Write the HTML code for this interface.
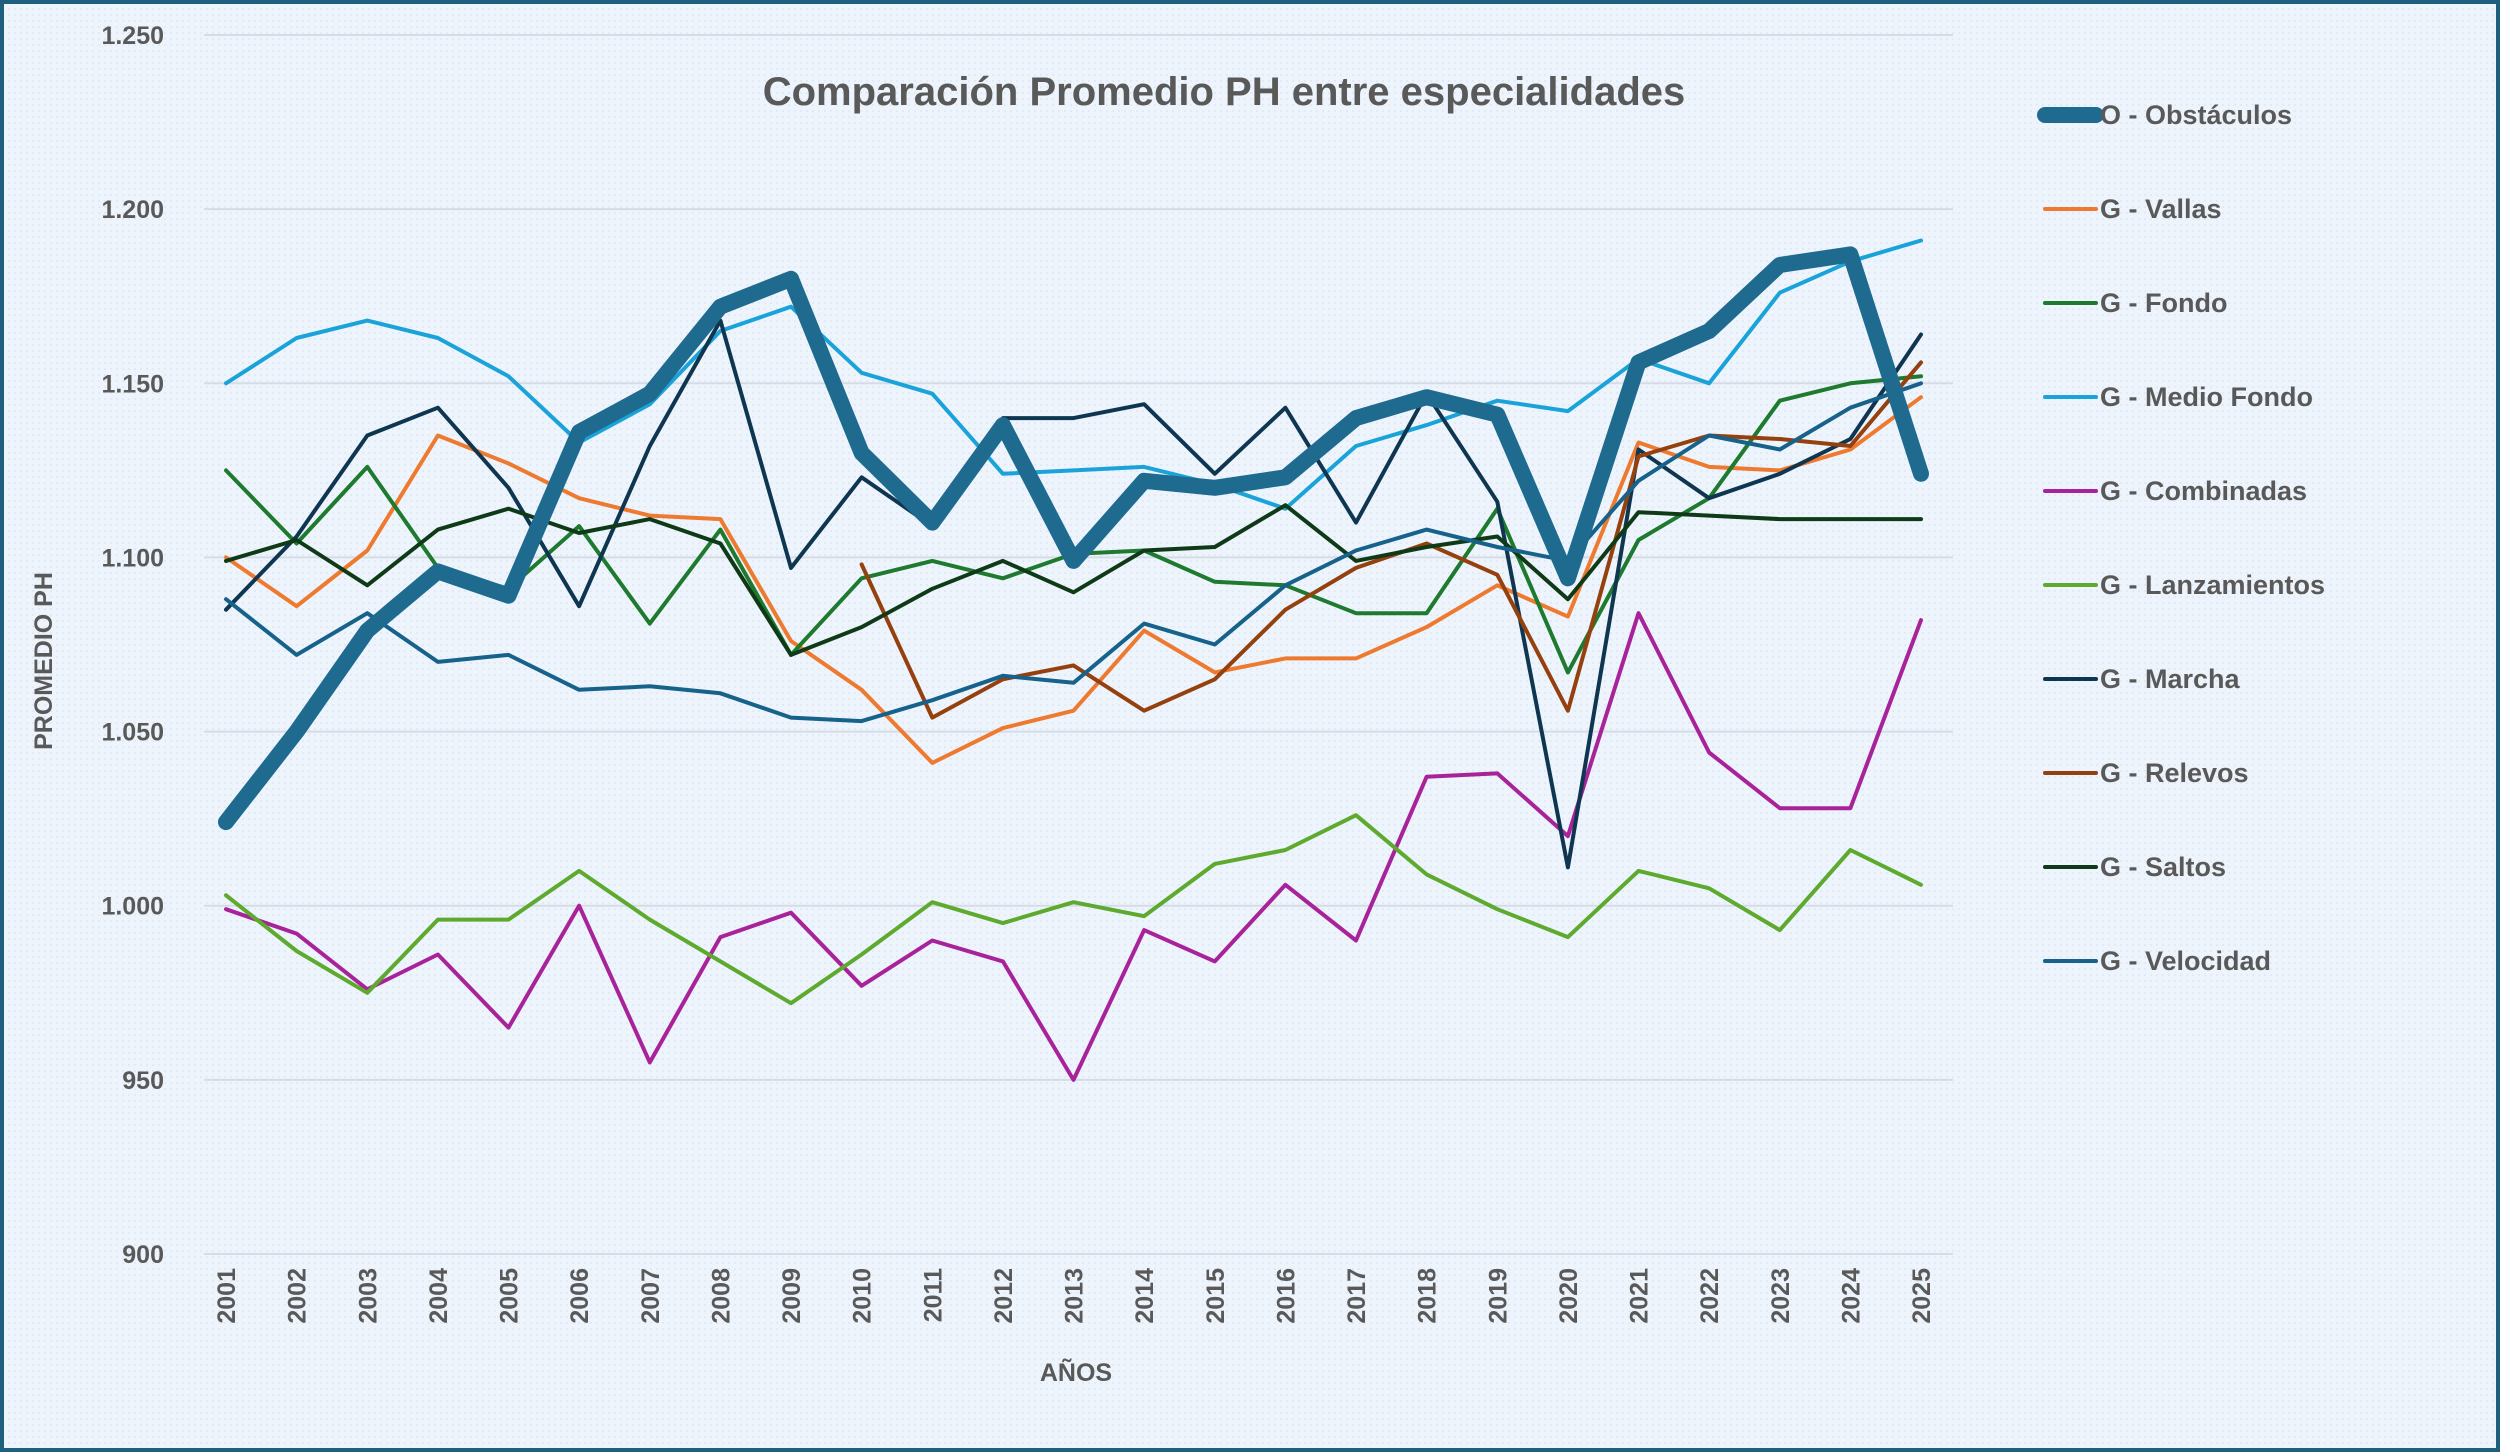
<!DOCTYPE html>
<html><head><meta charset="utf-8"><style>
html,body{margin:0;padding:0;background:#fff}
svg{display:block;font-family:"Liberation Sans",sans-serif}
</style></head><body>
<svg id="chart" width="2500" height="1452" viewBox="0 0 2500 1452" xmlns="http://www.w3.org/2000/svg">
<defs>
<pattern id="dots" width="6" height="6" patternUnits="userSpaceOnUse"><rect width="6" height="6" fill="#eef4fb"/><circle cx="3" cy="3" r="1" fill="#dde8f5"/></pattern>
</defs>
<rect x="2" y="2" width="2496" height="1448" fill="url(#dots)" stroke="#1f5f7e" stroke-width="4"/>
<text x="1224" y="105" text-anchor="middle" font-size="40" font-weight="bold" fill="#595959">Comparación Promedio PH entre especialidades</text>
<g id="grid"></g><g id="yticks"></g><g id="xticks"></g><g id="series"></g><g id="legend"></g>
<text x="0" y="0" transform="translate(52,661) rotate(-90)" text-anchor="middle" font-size="25" font-weight="bold" fill="#595959">PROMEDIO PH</text>
<text x="1076" y="1381" text-anchor="middle" font-size="25" font-weight="bold" fill="#595959">AÑOS</text>
</svg>
<script>
const years=[2001,2002,2003,2004,2005,2006,2007,2008,2009,2010,2011,2012,2013,2014,2015,2016,2017,2018,2019,2020,2021,2022,2023,2024,2025];
const yTicks=[900,950,1000,1050,1100,1150,1200,1250];
const yTickLabels=["900","950","1.000","1.050","1.100","1.150","1.200","1.250"];
const seriesNames=["O - Obstáculos","G - Vallas","G - Fondo","G - Medio Fondo","G - Combinadas","G - Lanzamientos","G - Marcha","G - Relevos","G - Saltos","G - Velocidad"];
const obstaculos=[1024,1050,1079,1096,1089,1136,1147,1172,1180,1130,1110,1138,1099,1122,1120,1123,1140,1146,1141,1094,1156,1165,1184,1187,1124];
const vallas=[1100,1086,1102,1135,1127,1117,1112,1111,1076,1062,1041,1051,1056,1079,1067,1071,1071,1080,1092,1083,1133,1126,1125,1131,1146];
const fondo=[1125,1104,1126,1097,1091,1109,1081,1108,1072,1094,1099,1094,1101,1102,1093,1092,1084,1084,1114,1067,1105,1117,1145,1150,1152];
const medioFondo=[1150,1163,1168,1163,1152,1133,1144,1165,1172,1153,1147,1124,1125,1126,1121,1114,1132,1138,1145,1142,1157,1150,1176,1185,1191];
const combinadas=[999,992,976,986,965,1000,955,991,998,977,990,984,950,993,984,1006,990,1037,1038,1020,1084,1044,1028,1028,1082];
const lanzamientos=[1003,987,975,996,996,1010,996,984,972,986,1001,995,1001,997,1012,1016,1026,1009,999,991,1010,1005,993,1016,1006];
const marcha=[1085,1106,1135,1143,1120,1086,1132,1168,1097,1123,1109,1140,1140,1144,1124,1143,1110,1147,1116,1011,1131,1117,1124,1134,1164];
const relevos=[null,null,null,null,null,null,null,null,null,1098,1054,1065,1069,1056,1065,1085,1097,1104,1095,1056,1129,1135,1134,1132,1156];
const saltos=[1099,1105,1092,1108,1114,1107,1111,1104,1072,1080,1091,1099,1090,1102,1103,1115,1099,1103,1106,1088,1113,1112,1111,1111,1111];
const velocidad=[1088,1072,1084,1070,1072,1062,1063,1061,1054,1053,1059,1066,1064,1081,1075,1092,1102,1108,1103,1099,1122,1135,1131,1143,1150];
const allSeries=[obstaculos,vallas,fondo,medioFondo,combinadas,lanzamientos,marcha,relevos,saltos,velocidad];
const colors=["#1f6a8f","#ee7a30","#1e7a2e","#1aa3d9","#a8239a","#5daa2e","#0f3650","#94410f","#0f3a17","#17628a"];
const widths=[16,4,4,4,4,4,4,4,4,4];
const NS="http://www.w3.org/2000/svg";
const X0=226,X1=1921,Y0=1254,Y1=35,PL=204,PR=1953;
function xs(i){return X0+(X1-X0)*i/(years.length-1);}
function ys(v){return Y0-(v-900)*(Y0-Y1)/350;}
function mk(tag,attrs,parent,txt){const e=document.createElementNS(NS,tag);for(const k in attrs)e.setAttribute(k,attrs[k]);if(txt!==undefined)e.textContent=txt;parent.appendChild(e);return e;}
const grid=document.getElementById('grid'),yt=document.getElementById('yticks'),xt=document.getElementById('xticks'),sg=document.getElementById('series'),lg=document.getElementById('legend');
yTicks.forEach((t,i)=>{
 const l=mk('line',{x1:PL,x2:PR,y1:ys(t),y2:ys(t),stroke:'#d6dce6','stroke-width':2},grid);
 
 
 const tx=mk('text',{x:164,y:ys(t)+9,'text-anchor':'end','font-size':25,'font-weight':'bold',fill:'#595959'},yt,yTickLabels[i]);
 
 
});
years.forEach((y,i)=>{
 const tx=mk('text',{x:0,y:0,transform:`translate(${xs(i)+9},${Y0+14}) rotate(-90)`,'text-anchor':'end','font-size':25,'font-weight':'bold',fill:'#595959'},xt,String(y));
 
 
});
const order=[1,2,3,4,5,6,7,8,9,0];
order.forEach(s=>{
 const data=allSeries[s];let d='',pen=false;
 data.forEach((v,i)=>{if(v===null){pen=false;return;}d+=(pen?'L':'M')+xs(i).toFixed(1)+' '+ys(v).toFixed(1)+' ';pen=true;});
 const p=mk('path',{d:d,fill:'none',stroke:colors[s],'stroke-width':widths[s],'stroke-linejoin':'round','stroke-linecap':'round'},sg);
 
 
});
seriesNames.forEach((n,s)=>{
 const y=115+94*s;
 const g=mk('g',{},lg);
 
 
 mk('line',{x1:2045,x2:2096,y1:y,y2:y,stroke:colors[s],'stroke-width':widths[s],'stroke-linecap':'round'},g);
 mk('text',{x:2100,y:y+9,'font-size':27,'font-weight':'bold',fill:'#595959'},g,n);
});
</script>
</body></html>
